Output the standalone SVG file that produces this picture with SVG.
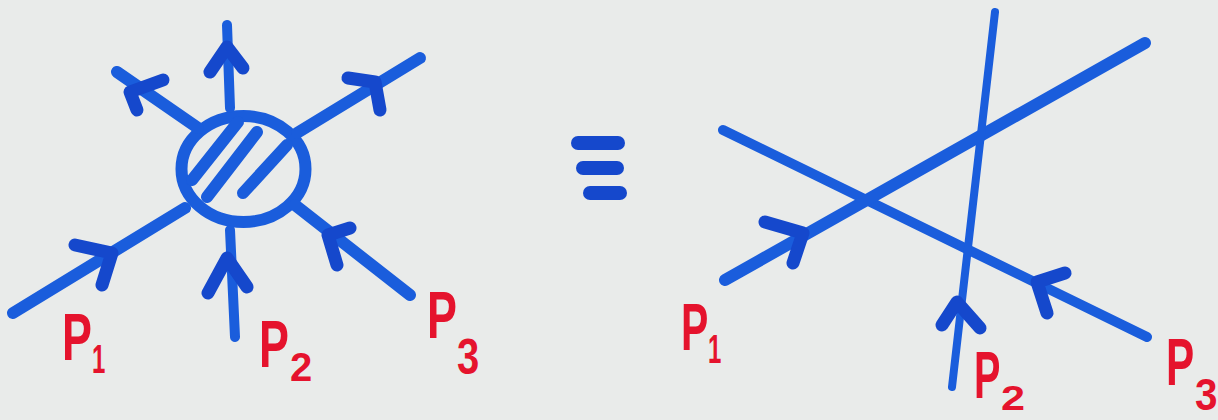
<svg xmlns="http://www.w3.org/2000/svg" width="1218" height="420" viewBox="0 0 1218 420">
<style>
.bg{fill:#e9ebea}
.ln{fill:none;stroke:#1a5ddc;stroke-linecap:round;stroke-linejoin:round}
.w12{stroke-width:12}
.w10{stroke-width:10}
.w8{stroke-width:8}
.w14{stroke-width:14}
.eq{stroke:#1548cc}
.hd{fill:none;stroke:#1548cc;stroke-width:13;stroke-linecap:round;stroke-linejoin:round}
.lbl{font-family:"Liberation Sans",Arial,sans-serif;font-weight:bold;fill:#e5132d;font-size:66px}
.sub{font-size:40px}
.sub2{font-size:36px}
.sub3{font-size:50px}
.sub4{font-size:44px}
</style>
<rect class="bg" x="0" y="0" width="1218" height="420"/>

<g id="blob">
  <ellipse class="ln w12" cx="243.5" cy="169" rx="62" ry="53"/>
  <line class="ln w12" x1="238" y1="122" x2="192" y2="180"/>
  <line class="ln w12" x1="257" y1="132" x2="207" y2="197"/>
  <line class="ln w12" x1="287" y1="145" x2="243" y2="193"/>
</g>

<g id="equiv">
  <line class="ln w14 eq" x1="578" y1="143" x2="618" y2="143"/>
  <line class="ln w14 eq" x1="583" y1="168" x2="617" y2="168"/>
  <line class="ln w14 eq" x1="590" y1="193" x2="620" y2="193"/>
</g>

<g id="connectors">
  <line class="ln w12" x1="13" y1="313" x2="185" y2="208"/>
  <line class="ln w10" x1="235" y1="337" x2="230" y2="230"/>
  <line class="ln w12" x1="410" y1="295" x2="295" y2="205"/>
  <line class="ln w10" x1="230" y1="108" x2="227" y2="25"/>
  <line class="ln w12" x1="198" y1="128" x2="117" y2="72"/>
  <line class="ln w12" x1="297" y1="133" x2="420" y2="58"/>
  <path class="hd" d="M75,245 L112,253 L102,285"/>
  <path class="hd" d="M208,293 L227,258 L247,287"/>
  <path class="hd" d="M350,228 L328,235 L337,265"/>
  <path class="hd" d="M210,72 L227,47 L243,68"/>
  <path class="hd" d="M137,110 L130,92 L163,80"/>
  <path class="hd" d="M348,78 L375,82 L380,110"/>
  <line class="ln w10" x1="723" y1="130" x2="1147" y2="337"/>
  <line class="ln w12" x1="725" y1="280" x2="1145" y2="43"/>
  <line class="ln w8" x1="995" y1="12" x2="952" y2="387"/>
  <path class="hd" d="M765,222 L803,233 L793,263"/>
  <path class="hd" d="M942,325 L957,302 L980,328"/>
  <path class="hd" d="M1065,273 L1037,282 L1047,313"/>
</g>

<g id="label-left-p1">
  <text class="lbl" transform="matrix(0.68 0 0 1 62 360)">P</text>
  <text class="lbl sub" transform="matrix(0.6 0 0 1 92 373)">1</text>
</g>
<g id="label-left-p2">
  <text class="lbl" transform="matrix(0.68 0 0 1 259 367)">P</text>
  <text class="lbl sub" transform="translate(290 381)">2</text>
</g>
<g id="label-left-p3">
  <text class="lbl" transform="matrix(0.68 0 0 1 427 338)">P</text>
  <text class="lbl sub3" transform="matrix(0.8 0 0 1 457 374)">3</text>
</g>

<g id="label-right-p1">
  <text class="lbl" transform="matrix(0.62 0 0 1 681 350)">P</text>
  <text class="lbl sub" transform="matrix(0.6 0 0 1 708 363)">1</text>
</g>
<g id="label-right-p2">
  <text class="lbl" transform="matrix(0.6 0 0 1 974 398)">P</text>
  <text class="lbl sub2" transform="matrix(1.2 0 0 1 1001 410)">2</text>
</g>
<g id="label-right-p3">
  <text class="lbl" transform="matrix(0.64 0 0 1 1166 385)">P</text>
  <text class="lbl sub4" transform="matrix(0.92 0 0 1 1195 410)">3</text>
</g>
</svg>
